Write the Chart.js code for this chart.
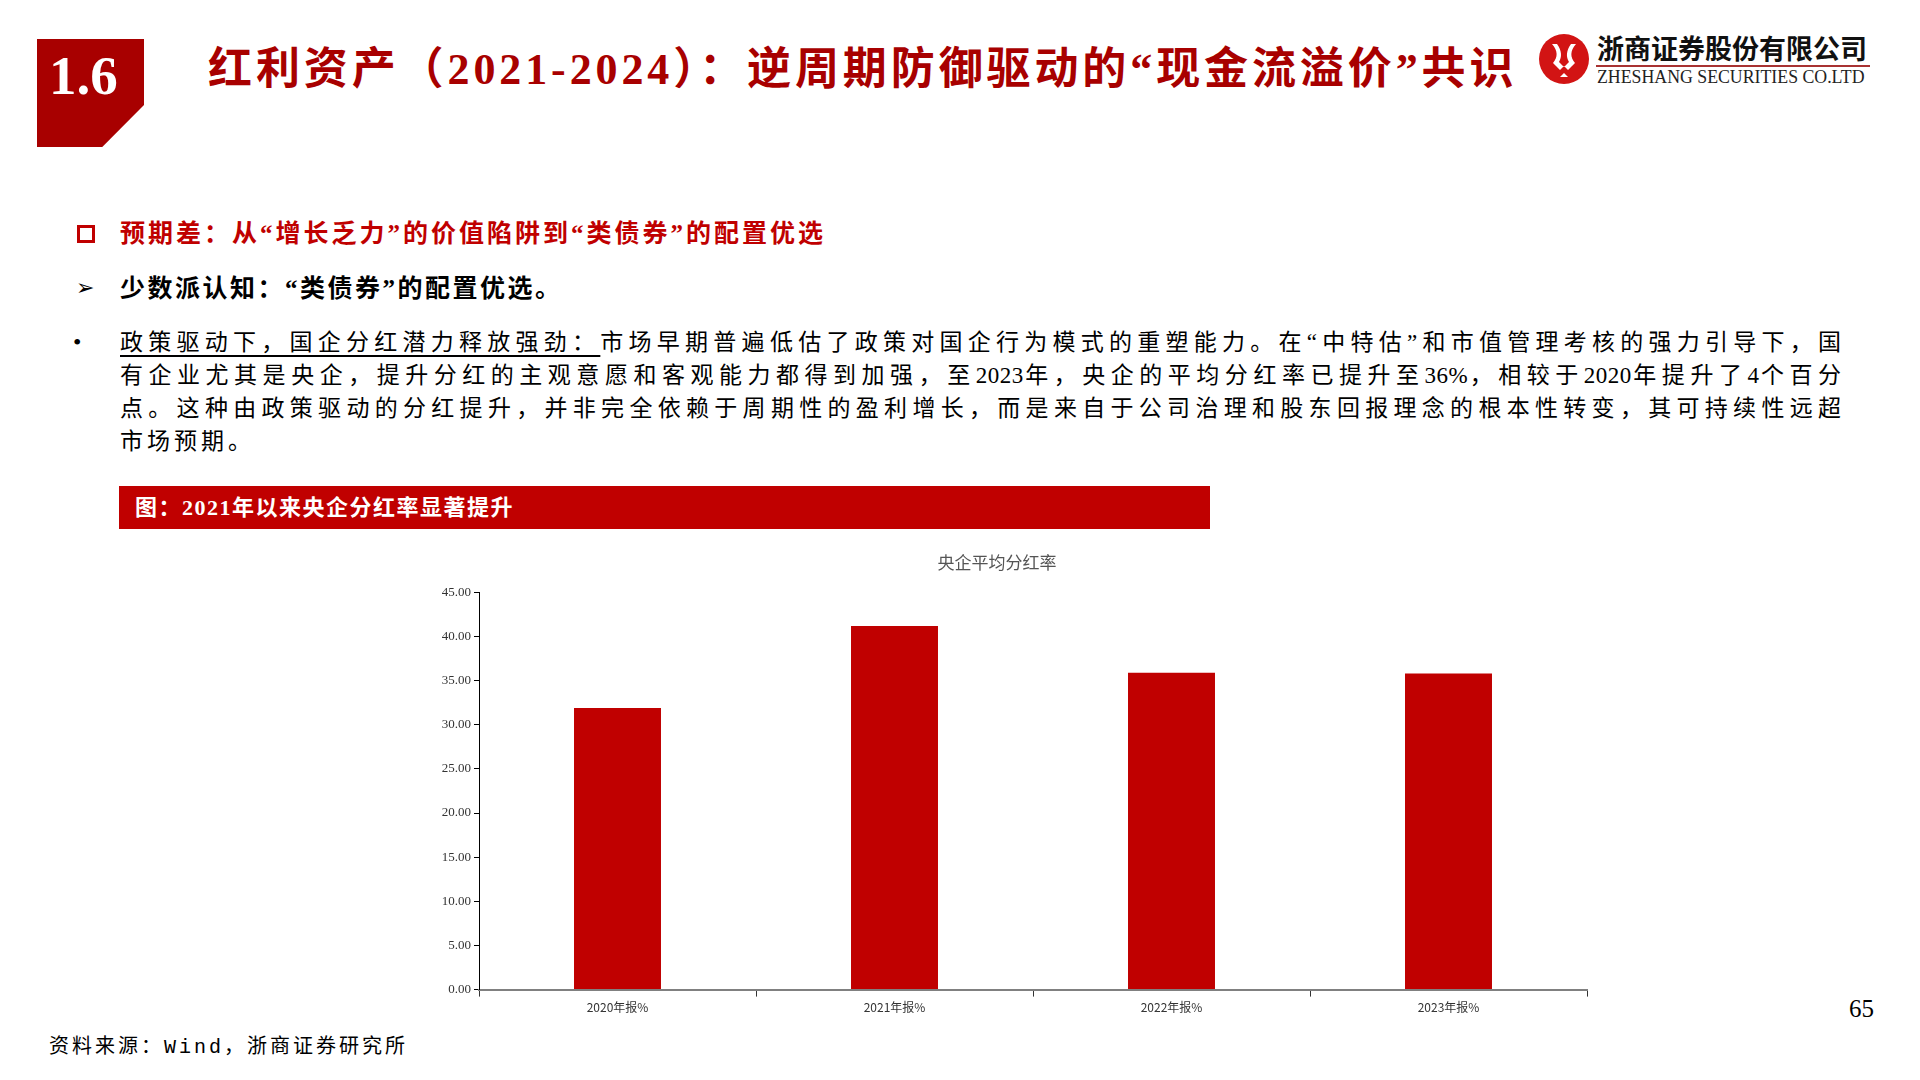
<!DOCTYPE html>
<html lang="zh">
<head>
<meta charset="utf-8">
<title>红利资产（2021-2024）</title>
<script src="https://cdn.jsdelivr.net/npm/chart.js@4.4.1/dist/chart.umd.min.js"></script>
<style>
    html, body { margin: 0; padding: 0; background: #fff; }
    body { width: 1920px; height: 1080px; position: relative; overflow: hidden;
           font-family: "Liberation Serif", "Noto Sans CJK SC", serif; color: #000; }
    .abs { position: absolute; white-space: nowrap; }
    #sec-badge { left: 37px; top: 39px; width: 107px; height: 108px; background: #a80000;
                 clip-path: polygon(0 0, 100% 0, 100% 61%, 61% 100%, 0 100%); }
    #sec-badge span { position: absolute; left: 12px; top: 9px; font-size: 55px; font-weight: bold; color: #fff;
                      font-family: "Liberation Serif", serif; line-height: 1; }
    #page-title { left: 208px; top: 45px; font-size: 44px; line-height: 50px; font-weight: bold; color: #a80000; letter-spacing: 3.9px; }
    #logo-cn { left: 1597px; top: 33px; font-size: 27px; line-height: 30px; font-weight: bold; color: #111;
               font-family: "Noto Sans CJK SC", sans-serif; }
    #logo-line { left: 1596px; top: 65px; width: 274px; height: 2px; background: #a83232; }
    #logo-en { left: 1597px; top: 67px; font-size: 17.8px; line-height: 20px; color: #222;
               font-family: "Liberation Serif", serif; }
    .point { font-family: "Liberation Serif", "Noto Sans CJK SC", serif; }
    #p1 { left: 120px; top: 219px; font-size: 25px; line-height: 30px; font-weight: bold; color: #c00000; letter-spacing: 3px; }
    #p1-box { left: 77px; top: 225px; width: 12px; height: 12px; border: 3px solid #c00000; }
    #p2 { left: 120px; top: 274px; font-size: 25px; line-height: 30px; font-weight: bold; color: #000; letter-spacing: 2.5px; }
    #p2-arrow { left: 76px; top: 273px; font-size: 22px; line-height: 30px; color: #000; }
    #p3-dot { left: 73px; top: 326px; font-size: 24px; line-height: 33px; }
    .para { left: 120px; width: 1725px; font-size: 23px; line-height: 33px; white-space: nowrap; letter-spacing: 4px;
            text-align: justify; text-align-last: justify; font-family: "Liberation Serif", "Noto Sans CJK SC", serif; }
    .para.last { text-align-last: left; }
    .para u { text-underline-offset: 5px; }
    .para .num { letter-spacing: 0.5px; }
    #fig-banner { left: 119px; top: 486px; width: 1091px; height: 43px; background: #c00000; }
    #fig-banner span { position: absolute; left: 16px; top: 0; line-height: 43px; font-size: 22px; font-weight: bold; color: #fff;
                       letter-spacing: 1.5px; }
    #chart-box { left: 380px; top: 545px; width: 1240px; height: 480px; }
    #source { left: 49px; top: 1034px; font-size: 20px; line-height: 28px; letter-spacing: 3px;
              font-family: "Liberation Mono", "Noto Sans CJK SC", monospace; }
    #page-no { left: 1849px; top: 995px; font-size: 25px; line-height: 28px; font-family: "Liberation Serif", serif; }
</style>
</head>
<body>
<div id="sec-badge" class="abs"><span>1.6</span></div>
<div id="page-title" class="abs">红利资产（2021-2024）：逆周期防御驱动的“现金流溢价”共识</div>

<!-- 公司标志 -->
<svg class="abs" style="left:1538px;top:33px" width="52" height="52" viewBox="0 0 52 52">
    <circle cx="26" cy="26" r="25" fill="#d21414"/>
    <path d="M14 11 C20 18 20 24 15 30 L22 37 L26 33 L30 37 L37 30 C32 24 32 18 38 11 L33 11 C28 18 28 24 31 29 L26 34 L21 29 C24 24 24 18 19 11 Z" fill="#fff"/>
    <path d="M22 44 L26 40 L30 44 Z" fill="#fff"/>
</svg>
<div id="logo-cn" class="abs">浙商证券股份有限公司</div>
<div id="logo-line" class="abs"></div>
<div id="logo-en" class="abs">ZHESHANG SECURITIES CO.LTD</div>

<div id="p1-box" class="abs"></div>
<div id="p1" class="abs point">预期差：从“增长乏力”的价值陷阱到“类债券”的配置优选</div>
<div id="p2-arrow" class="abs">➢</div>
<div id="p2" class="abs point">少数派认知：“类债券”的配置优选。</div>

<div id="p3-dot" class="abs">•</div>
<div class="abs para" style="top:326px"><u>政策驱动下，国企分红潜力释放强劲：</u>市场早期普遍低估了政策对国企行为模式的重塑能力。在“中特估”和市值管理考核的强力引导下，国</div>
<div class="abs para" style="top:359px">有企业尤其是央企，提升分红的主观意愿和客观能力都得到加强，至<span class="num">2023</span>年，央企的平均分红率已提升至<span class="num">36%</span>，相较于<span class="num">2020</span>年提升了<span class="num">4</span>个百分</div>
<div class="abs para" style="top:392px">点。这种由政策驱动的分红提升，并非完全依赖于周期性的盈利增长，而是来自于公司治理和股东回报理念的根本性转变，其可持续性远超</div>
<div class="abs para last" style="top:425px">市场预期。</div>

<div id="fig-banner" class="abs"><span>图：2021年以来央企分红率显著提升</span></div>

<div id="chart-box" class="abs"><canvas id="payoutChart"></canvas></div>

<div id="source" class="abs">资料来源：Wind，浙商证券研究所</div>
<div id="page-no" class="abs">65</div>

<script>
// 数据：央企平均分红率（%）
const categories = ['2020年报%', '2021年报%', '2022年报%', '2023年报%'];
const payoutRates = [31.9, 41.2, 35.9, 35.8];
const yTicks = [0, 5, 10, 15, 20, 25, 30, 35, 40, 45];
const chartTitle = '央企平均分红率';

function createPayoutChart() {
    const ctx = document.getElementById('payoutChart').getContext('2d');
    return new Chart(ctx, {
        type: 'bar',
        data: {
            labels: categories,
            datasets: [{
                label: chartTitle,
                data: payoutRates,
                backgroundColor: '#c00000',
                borderWidth: 0,
                barPercentage: 0.314,
                categoryPercentage: 1
            }]
        },
        options: {
            responsive: true,
            maintainAspectRatio: false,
            animation: false,
            layout: { padding: { left: 27, right: 33, top: 0, bottom: 6 } },
            plugins: {
                legend: { display: false },
                tooltip: { enabled: false },
                title: {
                    display: true,
                    text: chartTitle,
                    color: '#555',
                    font: { family: '"Liberation Serif", "Noto Sans CJK SC", serif', size: 17, weight: 'normal' },
                    padding: { top: 9, bottom: 18 }
                }
            },
            scales: {
                x: {
                    grid: { display: true, drawOnChartArea: false, drawTicks: true, tickLength: 7, color: '#333', offset: true },
                    border: { display: true, color: '#808080', width: 2 },
                    ticks: {
                        color: '#333',
                        padding: 4,
                        font: { family: '"Liberation Sans Narrow", "Noto Sans CJK SC", sans-serif', size: 12 }
                    }
                },
                y: {
                    min: 0,
                    max: 45,
                    afterBuildTicks: (scale) => { scale.ticks = yTicks.map(v => ({ value: v })); },
                    afterFit: (scale) => { scale.width = 72; },
                    grid: { display: true, drawOnChartArea: false, drawTicks: true, tickLength: 5, color: '#000' },
                    border: { display: true, color: '#000', width: 1 },
                    ticks: {
                        color: '#333',
                        padding: 3,
                        font: { family: '"Liberation Serif", serif', size: 13 },
                        callback: (v) => Number(v).toFixed(2)
                    }
                }
            }
        }
    });
}

createPayoutChart();
</script>
</body>
</html>
